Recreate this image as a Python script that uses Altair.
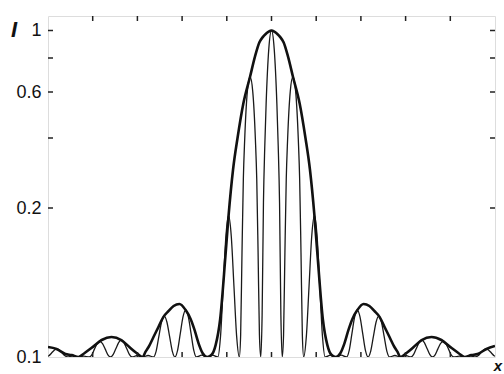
import altair as alt
import pandas as pd

# ---- data (x in tick units, I in axis-label units) ----
env_x = [-5.0, -4.81, -4.61, -4.47, -4.32, -4.18, -4.03, -3.80, -3.58, -3.36, -3.18, -3.02,
         -2.88, -2.82, -2.75, -2.64, -2.53, -2.42, -2.30, -2.19, -2.06, -1.92, -1.81, -1.72,
         -1.63, -1.54, -1.44, -1.34, -1.25, -1.15, -1.03, -0.96, -0.86, -0.76, -0.63, -0.48,
         -0.37, -0.27, -0.20, -0.13, -0.07, 0.0,
         0.07, 0.13, 0.20, 0.27, 0.37, 0.48, 0.63, 0.76, 0.86, 0.96, 1.03, 1.15, 1.25, 1.34,
         1.44, 1.54, 1.63, 1.72, 1.81, 1.92, 2.06, 2.19, 2.30, 2.42, 2.53, 2.64, 2.75, 2.82,
         2.88, 3.02, 3.18, 3.36, 3.58, 3.80, 4.03, 4.18, 4.32, 4.47, 4.61, 4.81, 5.0]
env_I = [0.1067, 0.1054, 0.102, 0.1013, 0.1, 0.1027, 0.106, 0.1114, 0.1134, 0.1114, 0.1067, 0.1027,
         0.1, 0.1034, 0.1067, 0.1134, 0.1201, 0.1268, 0.1309, 0.1342, 0.1356, 0.1315, 0.1255, 0.118,
         0.109, 0.1025, 0.1, 0.1015, 0.108, 0.125, 0.168, 0.195, 0.31, 0.40, 0.55, 0.69,
         0.81, 0.915, 0.95, 0.975, 0.99, 1.0,
         0.99, 0.975, 0.95, 0.915, 0.81, 0.69, 0.55, 0.40, 0.31, 0.195, 0.168, 0.125, 0.108, 0.1015,
         0.1, 0.1025, 0.109, 0.118, 0.1255, 0.1315, 0.1356, 0.1342, 0.1309, 0.1268, 0.1201, 0.1134, 0.1067, 0.1034,
         0.1, 0.1027, 0.1067, 0.1114, 0.1134, 0.1114, 0.106, 0.1027, 0.1, 0.1013, 0.102, 0.1054, 0.1074]

fr_x = [-5.0, -4.98, -4.92, -4.86, -4.80, -4.74, -4.68, -4.62, -4.56, -4.44, -4.32, -4.20,
        -4.08, -4.02, -3.96, -3.90, -3.84, -3.78, -3.72, -3.66, -3.60, -3.54, -3.48, -3.42,
        -3.36, -3.30, -3.24, -3.18, -3.12, -3.00, -2.88, -2.76, -2.64, -2.58, -2.52, -2.46,
        -2.40, -2.34, -2.28, -2.22, -2.16, -2.10, -2.04, -1.98, -1.92, -1.86, -1.80, -1.74,
        -1.68, -1.56, -1.44, -1.32, -1.20, -1.14, -1.08, -1.02, -0.96, -0.90, -0.84, -0.78,
        -0.72, -0.69, -0.66, -0.63, -0.60, -0.54, -0.48, -0.42, -0.36, -0.33, -0.30, -0.27,
        -0.24, -0.21, -0.18, -0.15, -0.12, -0.06, 0.0,
        0.06, 0.12, 0.15, 0.18, 0.21, 0.24, 0.27, 0.30, 0.33, 0.36, 0.42, 0.48,
        0.54, 0.60, 0.63, 0.66, 0.69, 0.72, 0.78, 0.84, 0.90, 0.96, 1.02, 1.08,
        1.14, 1.20, 1.32, 1.44, 1.56, 1.68, 1.74, 1.80, 1.86, 1.92, 1.98, 2.04,
        2.10, 2.16, 2.22, 2.28, 2.34, 2.40, 2.46, 2.52, 2.58, 2.64, 2.76, 2.88,
        3.00, 3.12, 3.18, 3.24, 3.30, 3.36, 3.42, 3.48, 3.54, 3.60, 3.66, 3.72,
        3.78, 3.84, 3.90, 3.96, 4.02, 4.08, 4.20, 4.32, 4.44, 4.56, 4.62, 4.68,
        4.74, 4.80, 4.86, 4.92, 4.98, 5.0]
fr_I = [0.1005, 0.1008, 0.1027, 0.1046, 0.1054, 0.1046, 0.1027, 0.1008, 0.1, 0.1008, 0.1, 0.1006,
        0.1, 0.1015, 0.1053, 0.109, 0.1105, 0.109, 0.1053, 0.1015, 0.1, 0.1017, 0.1057, 0.1097,
        0.1114, 0.1097, 0.1057, 0.1017, 0.1, 0.101, 0.1, 0.101, 0.1, 0.104, 0.1138, 0.1235,
        0.1275, 0.1235, 0.1138, 0.104, 0.1, 0.1046, 0.1158, 0.1269, 0.1315, 0.1269, 0.1158, 0.1046,
        0.1, 0.1012, 0.1, 0.1012, 0.1, 0.114, 0.1475, 0.181, 0.195, 0.181, 0.1475, 0.114,
        0.1, 0.115, 0.17, 0.282, 0.395, 0.604, 0.69, 0.604, 0.395, 0.282, 0.17, 0.115,
        0.1, 0.128, 0.215, 0.378, 0.55, 0.868, 1.0,
        0.868, 0.55, 0.378, 0.215, 0.128, 0.1, 0.115, 0.17, 0.282, 0.395, 0.604, 0.69,
        0.604, 0.395, 0.282, 0.17, 0.115, 0.1, 0.114, 0.1475, 0.181, 0.195, 0.181, 0.1475,
        0.114, 0.1, 0.1012, 0.1, 0.1012, 0.1, 0.1046, 0.1158, 0.1269, 0.1315, 0.1269, 0.1158,
        0.1046, 0.1, 0.104, 0.1138, 0.1235, 0.1275, 0.1235, 0.1138, 0.104, 0.1, 0.101, 0.1,
        0.101, 0.1, 0.1017, 0.1057, 0.1097, 0.1114, 0.1097, 0.1057, 0.1017, 0.1, 0.1015, 0.1053,
        0.109, 0.1105, 0.109, 0.1053, 0.1015, 0.1, 0.1006, 0.1, 0.1008, 0.1, 0.1008, 0.1027,
        0.1046, 0.1054, 0.1046, 0.1027, 0.1008, 0.1005]

x_ticks = [-4, -3, -2, -1, 0, 1, 2, 3, 4]
y_ticks = [1.0, 0.8, 0.6, 0.4, 0.2]
y_labels = [0.1, 0.2, 0.6, 1.0]
y_breaks = [0.1, 0.2, 0.4, 0.6, 0.8, 1.0]

W, H = 447, 341
xs = alt.Scale(domain=[-5, 5], nice=False, zero=False)
ys = alt.Scale(domain=y_breaks, range=[341, 192, 122, 76, 42, 14.5], zero=False, nice=False, clamp=True)

env = pd.DataFrame({"x": env_x, "I": env_I})
fr = pd.DataFrame({"x": fr_x, "I": fr_I})
xt = pd.DataFrame({"t": x_ticks})
yt = pd.DataFrame({"v": y_ticks})

yaxis = alt.Axis(values=y_labels, format=".1~f", ticks=False, domain=False, grid=False,
                 labelFontSize=18, labelFont="Liberation Sans", labelColor="#111",
                 labelPadding=7, title=None)

thin = alt.Chart(fr).mark_line(color="#1a1a1a", strokeWidth=1.3, interpolate="monotone", clip=True).encode(
    x=alt.X("x:Q", scale=xs, axis=None),
    y=alt.Y("I:Q", scale=ys, axis=yaxis),
)
thick = alt.Chart(env).mark_line(color="#111", strokeWidth=2.6, interpolate="monotone", clip=True).encode(
    x=alt.X("x:Q", scale=xs, axis=None),
    y=alt.Y("I:Q", scale=ys, axis=yaxis),
)
top_t = alt.Chart(xt).mark_rule(color="#222", strokeWidth=1.5).encode(
    x=alt.X("t:Q", scale=xs, axis=None), y=alt.value(0), y2=alt.value(5))
bot_t = alt.Chart(xt).mark_rule(color="#222", strokeWidth=1.5).encode(
    x=alt.X("t:Q", scale=xs, axis=None), y=alt.value(H), y2=alt.value(H - 5))
left_t = alt.Chart(yt).mark_rule(color="#222", strokeWidth=1.5).encode(
    y=alt.Y("v:Q", scale=ys, axis=yaxis), x=alt.value(0), x2=alt.value(5))
right_t = alt.Chart(yt).mark_rule(color="#222", strokeWidth=1.5).encode(
    y=alt.Y("v:Q", scale=ys, axis=yaxis), x=alt.value(W), x2=alt.value(W - 5))

ylab = alt.Chart(pd.DataFrame({"s": ["I"]})).mark_text(
    fontSize=22, fontStyle="italic", fontWeight="bold", font="Liberation Sans", color="#111",
    align="center", baseline="middle").encode(text="s:N", x=alt.value(-34), y=alt.value(14))
xlab = alt.Chart(pd.DataFrame({"s": ["x"]})).mark_text(
    fontSize=15, fontStyle="italic", fontWeight="bold", font="Liberation Sans", color="#111",
    align="center", baseline="middle").encode(text="s:N", x=alt.value(450), y=alt.value(350))

chart = alt.layer(thin, thick, top_t, bot_t, left_t, right_t, ylab, xlab).properties(
    width=W, height=H, autosize="none",
    padding={"left": 48, "top": 16, "right": 9, "bottom": 17},
).configure_view(stroke="#222", strokeWidth=2).configure(background="white")

chart.save("out.html", embed_options={"renderer": "svg", "actions": False})
